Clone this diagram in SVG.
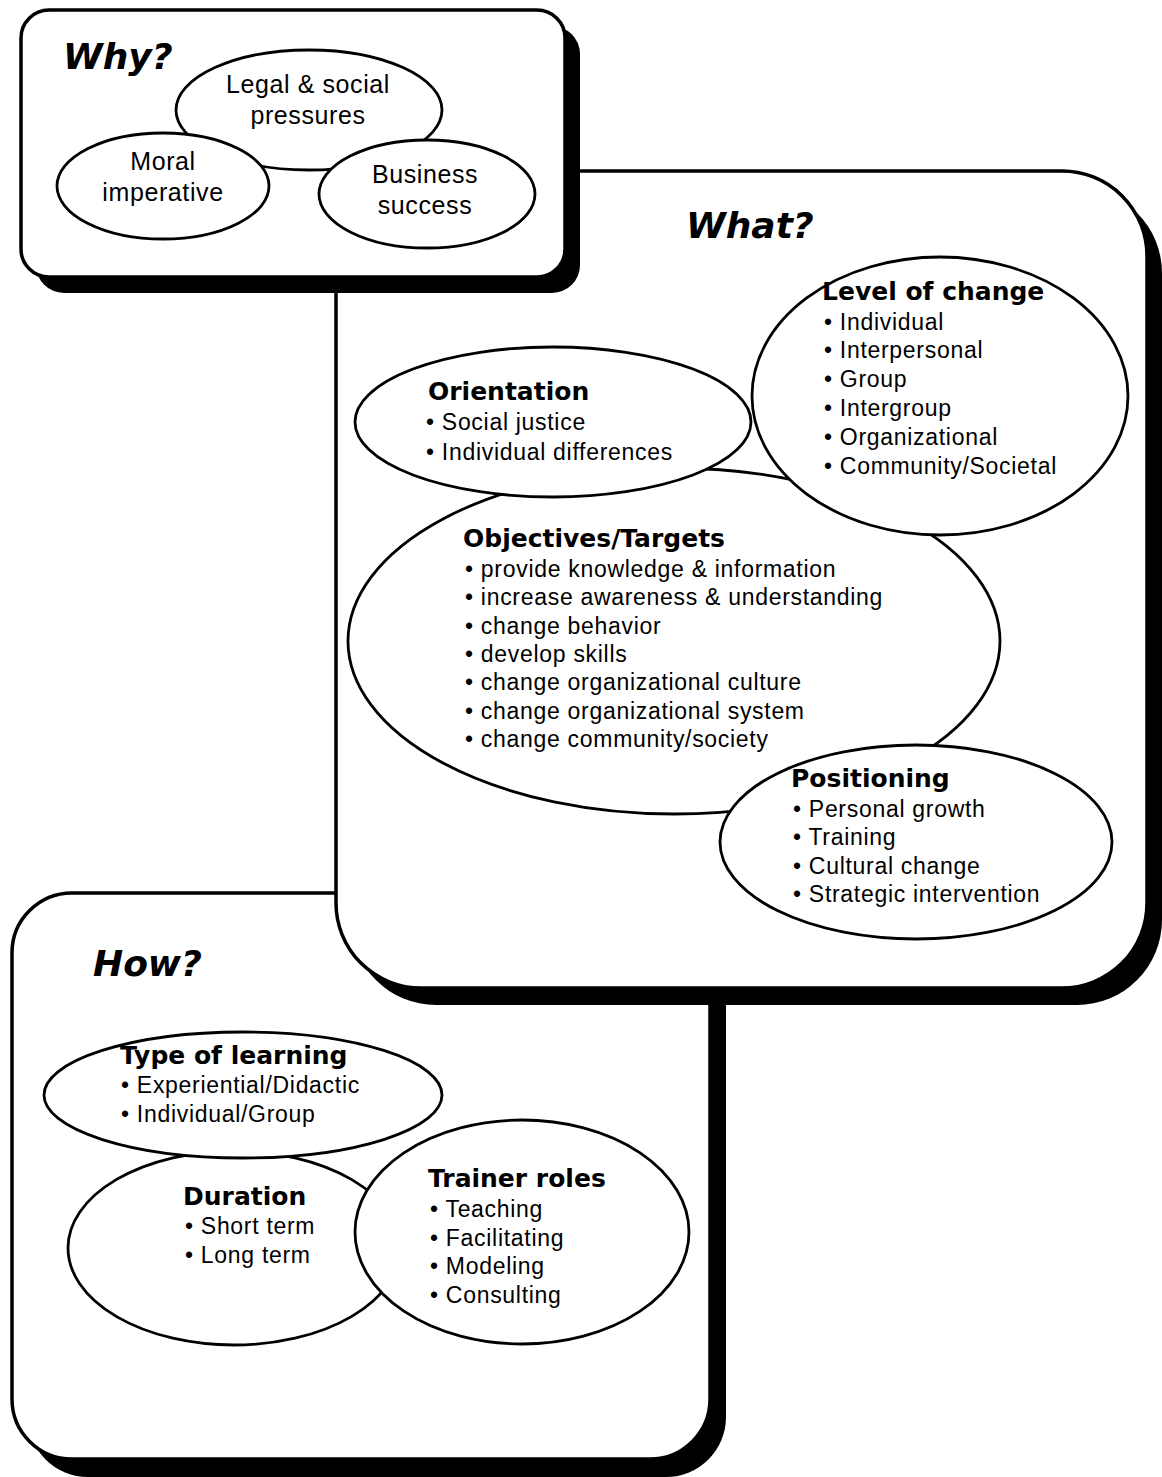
<svg xmlns="http://www.w3.org/2000/svg" width="1162" height="1477" viewBox="0 0 1162 1477">
<style>
.box{fill:#fff;stroke:#000;stroke-width:3.5}
.sh{fill:#000}
.el{fill:#fff;stroke:#000;stroke-width:2.8}
.ttl{font-family:"DejaVu Sans",sans-serif;font-weight:bold;font-style:oblique;font-size:36px;fill:#000}
.hd{font-family:"DejaVu Sans",sans-serif;font-weight:bold;font-size:25px;fill:#000}
.tx{font-family:"Liberation Sans",Arial,sans-serif;font-size:23px;letter-spacing:0.7px;fill:#000}
.wt{font-family:"Liberation Sans",Arial,sans-serif;font-size:25px;letter-spacing:0.6px;fill:#000;text-anchor:middle}
</style>
<rect x="0" y="0" width="1162" height="1477" fill="#fff"/>

<g id="how">
<rect class="sh" x="28" y="911" width="698" height="566" rx="60"/>
<rect class="box" x="12" y="893" width="698" height="566" rx="60"/>
<text class="ttl" x="93" y="976">How?</text>
</g>

<g id="duration">
<ellipse class="el" cx="234" cy="1248" rx="166" ry="97"/>
<text class="hd" x="183" y="1205">Duration</text>
<text class="tx" x="185" y="1234">• Short term</text>
<text class="tx" x="185" y="1263">• Long term</text>
</g>

<g id="type-of-learning">
<ellipse class="el" cx="243" cy="1095" rx="199" ry="63"/>
<text class="hd" x="120" y="1064">Type of learning</text>
<text class="tx" x="121" y="1093">• Experiential/Didactic</text>
<text class="tx" x="121" y="1122">• Individual/Group</text>
</g>

<g id="trainer-roles">
<ellipse class="el" cx="522" cy="1232" rx="167" ry="112"/>
<text class="hd" x="428" y="1187">Trainer roles</text>
<text class="tx" x="430" y="1217">• Teaching</text>
<text class="tx" x="430" y="1246">• Facilitating</text>
<text class="tx" x="430" y="1274">• Modeling</text>
<text class="tx" x="430" y="1303">• Consulting</text>
</g>

<g id="what">
<rect class="sh" x="351" y="188" width="811" height="817" rx="85"/>
<rect class="box" x="336" y="171" width="811" height="817" rx="85"/>
<text class="ttl" x="686" y="238">What?</text>
</g>

<g id="objectives">
<ellipse class="el" cx="674" cy="641" rx="326" ry="173"/>
<text class="hd" x="463" y="547">Objectives/Targets</text>
<text class="tx" x="465" y="577">• provide knowledge &amp; information</text>
<text class="tx" x="465" y="605">• increase awareness &amp; understanding</text>
<text class="tx" x="465" y="634">• change behavior</text>
<text class="tx" x="465" y="662">• develop skills</text>
<text class="tx" x="465" y="690">• change organizational culture</text>
<text class="tx" x="465" y="719">• change organizational system</text>
<text class="tx" x="465" y="747">• change community/society</text>
</g>

<g id="orientation">
<ellipse class="el" cx="553" cy="422" rx="198" ry="75"/>
<text class="hd" x="428" y="400">Orientation</text>
<text class="tx" x="426" y="430">• Social justice</text>
<text class="tx" x="426" y="460">• Individual differences</text>
</g>

<g id="level-of-change">
<ellipse class="el" cx="940" cy="396" rx="188" ry="139"/>
<text class="hd" x="822" y="300">Level of change</text>
<text class="tx" x="824" y="330">• Individual</text>
<text class="tx" x="824" y="358">• Interpersonal</text>
<text class="tx" x="824" y="387">• Group</text>
<text class="tx" x="824" y="416">• Intergroup</text>
<text class="tx" x="824" y="445">• Organizational</text>
<text class="tx" x="824" y="474">• Community/Societal</text>
</g>

<g id="positioning">
<ellipse class="el" cx="916" cy="842" rx="196" ry="97"/>
<text class="hd" x="791" y="787">Positioning</text>
<text class="tx" x="793" y="817">• Personal growth</text>
<text class="tx" x="793" y="845">• Training</text>
<text class="tx" x="793" y="874">• Cultural change</text>
<text class="tx" x="793" y="902">• Strategic intervention</text>
</g>

<g id="why">
<rect class="sh" x="36" y="26" width="544" height="267" rx="28"/>
<rect class="box" x="21" y="10" width="544" height="267" rx="28"/>
<text class="ttl" x="63" y="69">Why?</text>
</g>

<g id="legal-social">
<ellipse class="el" cx="309" cy="110" rx="133" ry="60"/>
<text class="wt" x="308" y="93">Legal &amp; social</text>
<text class="wt" x="308" y="124">pressures</text>
</g>

<g id="moral">
<ellipse class="el" cx="163" cy="186" rx="106" ry="53"/>
<text class="wt" x="163" y="170">Moral</text>
<text class="wt" x="163" y="201">imperative</text>
</g>

<g id="business">
<ellipse class="el" cx="427" cy="194" rx="108" ry="54"/>
<text class="wt" x="425" y="183">Business</text>
<text class="wt" x="425" y="214">success</text>
</g>
</svg>
